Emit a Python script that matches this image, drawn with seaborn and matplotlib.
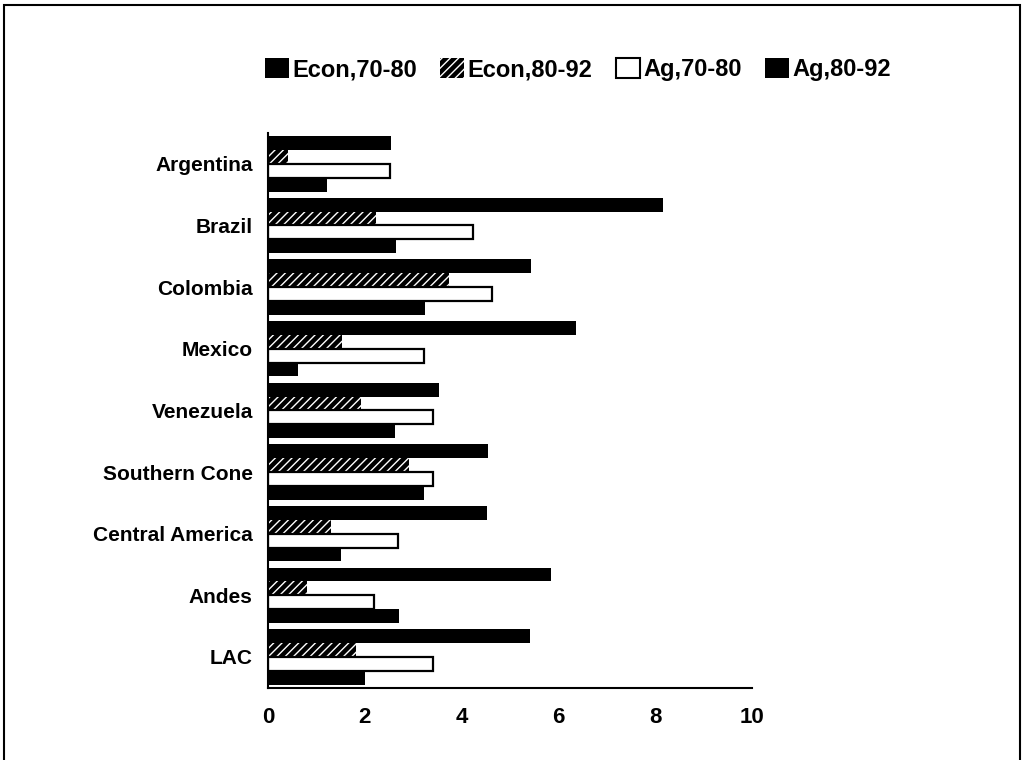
import matplotlib
matplotlib.use("Agg")
import matplotlib.pyplot as plt
from matplotlib.patches import Rectangle
import seaborn as sns
import pandas as pd

regions = ["Argentina", "Brazil", "Colombia", "Mexico", "Venezuela",
           "Southern Cone", "Central America", "Andes", "LAC"]
series = ["Econ,70-80", "Econ,80-92", "Ag,70-80", "Ag,80-92"]
econ_70_80 = [2.54, 8.16, 5.44, 6.37, 3.53, 4.54, 4.53, 5.84, 5.42]
econ_80_92 = [0.41, 2.23, 3.73, 1.52, 1.92, 2.91, 1.30, 0.80, 1.81]
ag_70_80 = [2.52, 4.23, 4.62, 3.22, 3.40, 3.40, 2.68, 2.20, 3.40]
ag_80_92 = [1.22, 2.64, 3.24, 0.62, 2.62, 3.22, 1.50, 2.70, 2.00]
x_ticks = [0, 2, 4, 6, 8, 10]

values = [econ_70_80, econ_80_92, ag_70_80, ag_80_92]
rows = []
for s, vals in zip(series, values):
    for r, v in zip(regions, vals):
        rows.append({"region": r, "series": s, "value": v})
df = pd.DataFrame(rows)

sns.set_theme(style="white")
plt.rcParams["font.family"] = ["Liberation Sans", "DejaVu Sans"]
plt.rcParams["text.color"] = "black"
plt.rcParams["xtick.color"] = "black"
plt.rcParams["ytick.color"] = "black"

fig = plt.figure(figsize=(10.23, 7.6), dpi=100)
ax = fig.add_axes([0.262, 0.095, 0.473, 0.730])

face = {"Econ,70-80": "black", "Econ,80-92": "black", "Ag,70-80": "white", "Ag,80-92": "black"}
sns.barplot(data=df, y="region", x="value", hue="series", hue_order=series,
            order=regions, orient="h", palette=face, width=0.9,
            saturation=1, legend=False, ax=ax)

styles = {
    "Econ,70-80": dict(fc="black", ec="black", hatch=None, lw=0),
    "Econ,80-92": dict(fc="black", ec="white", hatch="////", lw=0),
    "Ag,70-80": dict(fc="white", ec="black", hatch=None, lw=1.6),
    "Ag,80-92": dict(fc="black", ec="black", hatch=None, lw=0),
}
for cont, s in zip(ax.containers, series):
    st = styles[s]
    for p in cont:
        p.set_facecolor(st["fc"])
        p.set_edgecolor(st["ec"])
        p.set_linewidth(st["lw"])
        if st["hatch"]:
            p.set_hatch(st["hatch"])

ax.set_xlim(0, 10)
ax.set_xticks(x_ticks)
ax.set_xticklabels([str(t) for t in x_ticks], fontsize=16, fontweight="bold", color="black")
for lbl in ax.get_yticklabels():
    lbl.set_fontsize(15)
    lbl.set_fontweight("bold")
    lbl.set_color("black")
ax.set_xlabel("")
ax.set_ylabel("")
ax.tick_params(axis="x", length=0, pad=14)
ax.tick_params(axis="y", length=0, pad=11)
for side in ["top", "right"]:
    ax.spines[side].set_visible(False)
for side in ["left", "bottom"]:
    ax.spines[side].set_color("black")
    ax.spines[side].set_linewidth(1.5)

handles = [
    Rectangle((0, 0), 1, 1, fc="black", ec="black", lw=0),
    Rectangle((0, 0), 1, 1, fc="black", ec="white", hatch="////", lw=0),
    Rectangle((0, 0), 1, 1, fc="white", ec="black", lw=1.5),
    Rectangle((0, 0), 1, 1, fc="black", ec="black", lw=0),
]
leg = fig.legend(handles, series, loc="center", bbox_to_anchor=(0.565, 0.908),
                 ncol=4, frameon=False, handlelength=1.0, handleheight=0.9,
                 handletextpad=0.15, columnspacing=1.0,
                 prop={"size": 17, "weight": "bold"})

fig.patches.append(Rectangle((0.004, -0.01), 0.993, 1.003, transform=fig.transFigure,
                             fill=False, ec="black", lw=1.5))

fig.savefig("out.png", dpi=100)
